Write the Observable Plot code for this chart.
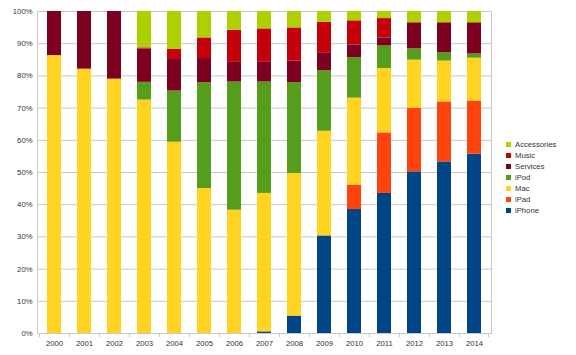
<!DOCTYPE html>
<html><head><meta charset="utf-8">
<script src="https://cdn.jsdelivr.net/npm/d3@7"></script>
<script src="https://cdn.jsdelivr.net/npm/@observablehq/plot@0.6"></script>
<style>
body{margin:0;background:#fff;font-family:"Liberation Sans",Arial,sans-serif;}
#wrap{position:relative;width:576px;height:355px;}
#legend{position:absolute;left:506px;top:139px;font-size:7.7px;color:#333;}
.item{height:11px;line-height:11px;display:flex;align-items:center;white-space:nowrap;}
.sw{width:5px;height:5px;margin-right:4px;}
</style></head><body><div id="wrap"><div id="legend"></div></div>
<script>
const years = ["2000","2001","2002","2003","2004","2005","2006","2007","2008","2009","2010","2011","2012","2013","2014"];
const seriesNames = ["iPhone","iPad","Mac","iPod","Services","Music","Accessories"];
const seriesColors = ["#004586","#ff420e","#ffd320","#579d1c","#7e0021","#c5000b","#aecf00"];
const iPhone      = [0,0,0,0,0,0,0,0.5,5.4,30.3,38.5,43.5,50.2,53.3,55.7];
const iPad        = [0,0,0,0,0,0,0,0,0,0,7.6,18.8,19.7,18.6,16.5];
const Mac         = [86.3,82.1,79.0,72.5,59.4,45.0,38.3,43.0,44.3,32.5,27.0,20.0,15.0,12.7,13.3];
const iPod        = [0,0,0,5.5,15.9,32.9,39.8,34.6,28.2,18.8,12.6,7.0,3.5,2.6,1.3];
const Services    = [13.7,17.9,21.0,10.3,9.8,7.5,6.3,6.3,6.7,5.6,3.9,2.5,8.1,9.3,9.7];
const Music       = [0,0,0,0.4,3.2,6.4,9.8,10.2,10.3,9.4,7.5,6.0,0,0,0];
const Accessories = [0,0,0,11.3,11.7,8.2,5.8,5.4,5.1,3.4,2.9,2.2,3.5,3.5,3.5];
const yTicks = [0,0.1,0.2,0.3,0.4,0.5,0.6,0.7,0.8,0.9,1];

const seriesValues = [iPhone,iPad,Mac,iPod,Services,Music,Accessories];
const data = [];
seriesNames.forEach((s,i)=>years.forEach((y,j)=>data.push({year:y,series:s,value:seriesValues[i][j]})));

const grid = "#c8c8c8";
const plot = Plot.plot({
  width:576, height:355,
  marginLeft:37, marginRight:85, marginTop:11, marginBottom:22,
  style:{fontFamily:"Liberation Sans, Arial, sans-serif", fontSize:"7.7px", color:"#333", background:"#fff"},
  x:{domain:years, paddingInner:0.52, paddingOuter:0.26, label:null},
  y:{domain:[0,1], label:null},
  color:{domain:seriesNames, range:seriesColors},
  marks:[
    Plot.gridY(yTicks,{stroke:grid, strokeOpacity:1}),
    Plot.frame({stroke:grid}),
    Plot.barY(data, Plot.stackY({offset:"normalize", order:seriesNames, x:"year", y:"value", z:"series", fill:"series", inset:0})),
    Plot.axisY(yTicks,{tickSize:0, tickPadding:5, tickFormat:d3.format(".0%"), label:null, fill:"#333"}),
    Plot.axisX({tickSize:0, tickPadding:7, label:null, fill:"#333"})
  ]
});
document.getElementById("wrap").prepend(plot);

// boundary tick marks under the x axis
const xs = plot.scale("x");
const step = xs.bandwidth/(1-0.52);
const y0 = 355-22;
const g = d3.select(plot).append("g").attr("stroke",grid);
const bounds = years.map(y=>xs.apply(y)+xs.bandwidth/2-step/2);
bounds.push(xs.apply(years[years.length-1])+xs.bandwidth/2+step/2);
bounds.forEach(b=>g.append("line").attr("x1",b).attr("x2",b).attr("y1",y0).attr("y2",y0+4));

// legend
const lg = document.getElementById("legend");
[...seriesNames].reverse().forEach(s=>{
  const c = seriesColors[seriesNames.indexOf(s)];
  const it = document.createElement("div"); it.className="item";
  it.innerHTML = `<span class="sw" style="background:${c}"></span><span>${s}</span>`;
  lg.appendChild(it);
});
</script></body></html>
